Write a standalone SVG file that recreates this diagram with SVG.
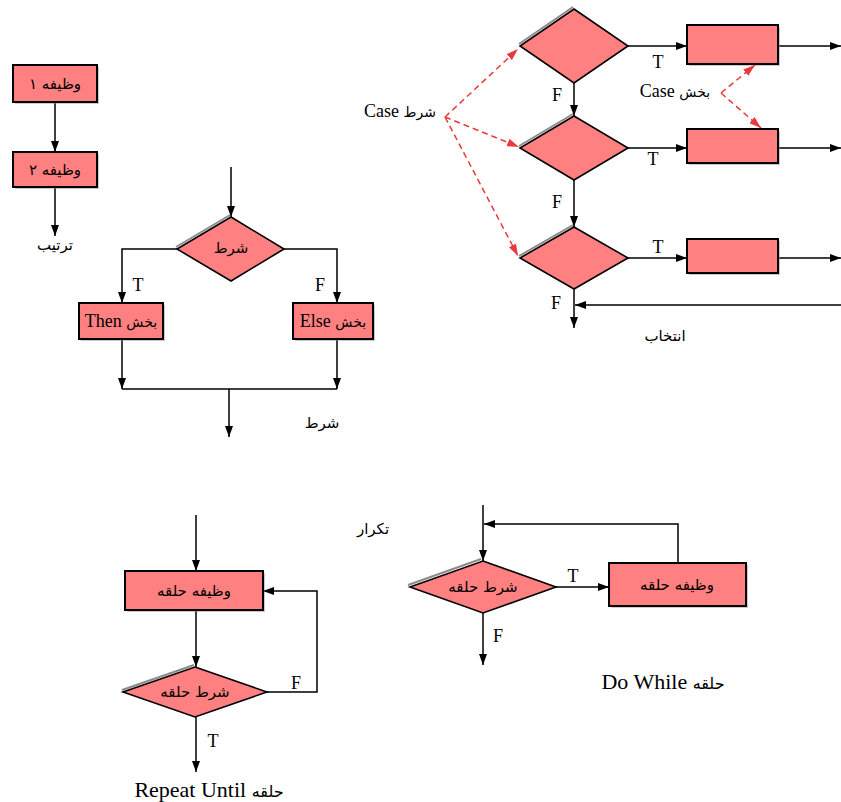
<svg xmlns="http://www.w3.org/2000/svg" width="841" height="802" viewBox="0 0 841 802">
<style>
.box{fill:#FF8080;stroke:#000;stroke-width:2}
.shb{fill:#8a8a8a;opacity:0.45}
.dia{fill:#FF8080;stroke:#000;stroke-width:1.6;stroke-linejoin:miter}
.shd{fill:none;stroke:#8a8a8a;stroke-width:2}
.ln{fill:none;stroke:#000;stroke-width:1.5}
.arr{fill:none;stroke:#000;stroke-width:1.5;marker-end:url(#ah)}
.dash{fill:none;stroke:#E83A3A;stroke-width:1.5;stroke-dasharray:6,4;marker-end:url(#rh)}
.fa{font-family:"DejaVu Sans","Noto Sans",sans-serif;font-size:15px;fill:#000;text-anchor:middle}
.lt{font-family:"Liberation Serif","DejaVu Sans",serif;font-size:18px;fill:#000;text-anchor:middle}
.ft{font-family:"DejaVu Sans","Noto Sans",sans-serif;font-size:14px}
.tf{font-family:"Liberation Serif",serif;font-size:18px;fill:#000;text-anchor:middle}
</style>
<defs>
<marker id="ah" markerWidth="11" markerHeight="8" refX="11" refY="4" orient="auto" markerUnits="userSpaceOnUse"><path d="M0,0 L11,4 L0,8 z" fill="#000"/></marker>
<marker id="rh" markerWidth="12" markerHeight="8" refX="12" refY="4" orient="auto" markerUnits="userSpaceOnUse"><path d="M0,0 L12,4 L0,8 z" fill="#E83A3A"/></marker>
</defs>

<g id="connectors">
<line class="arr" x1="55" y1="102" x2="55" y2="152"/>
<line class="arr" x1="55" y1="187" x2="55" y2="236"/>

<line class="arr" x1="231" y1="167" x2="231" y2="217"/>
<polyline class="arr" points="177,249 122,249 122,303"/>
<polyline class="arr" points="284,249 337,249 337,303"/>
<line class="arr" x1="122" y1="339" x2="122" y2="389"/>
<line class="arr" x1="337" y1="339" x2="337" y2="389"/>
<line class="ln" x1="122" y1="389" x2="337" y2="389"/>
<line class="arr" x1="229" y1="389" x2="229" y2="437"/>

<line class="arr" x1="628" y1="46" x2="687" y2="46"/>
<line class="arr" x1="628" y1="148" x2="687" y2="148"/>
<line class="arr" x1="628" y1="258" x2="687" y2="258"/>
<line class="arr" x1="778" y1="46" x2="841" y2="46"/>
<line class="arr" x1="778" y1="148" x2="841" y2="148"/>
<line class="arr" x1="778" y1="258" x2="841" y2="258"/>
<line class="arr" x1="574" y1="83" x2="574" y2="116"/>
<line class="arr" x1="574" y1="180" x2="574" y2="227"/>
<line class="arr" x1="574" y1="289" x2="574" y2="328"/>
<line class="arr" x1="841" y1="305" x2="575" y2="305"/>
<line class="dash" x1="445" y1="117" x2="518" y2="49"/>
<line class="dash" x1="445" y1="117" x2="519" y2="147"/>
<line class="dash" x1="445" y1="117" x2="518" y2="256"/>
<line class="dash" x1="721" y1="93" x2="755" y2="65"/>
<line class="dash" x1="721" y1="93" x2="761" y2="128"/>

<line class="arr" x1="196" y1="515" x2="196" y2="571"/>
<line class="arr" x1="196" y1="610" x2="196" y2="667"/>
<polyline class="arr" points="267,692 317,692 317,591 263,591"/>
<line class="arr" x1="196" y1="717" x2="196" y2="772"/>

<line class="arr" x1="483" y1="505" x2="483" y2="561"/>
<polyline class="arr" points="678,563 678,524 484,524"/>
<line class="arr" x1="556" y1="587" x2="609" y2="587"/>
<line class="arr" x1="483" y1="613" x2="483" y2="665"/>
</g>

<g id="seq1"><rect class="shb" x="15" y="67" width="84" height="37"/><rect class="box" x="13" y="65" width="84" height="37"/><text class="fa" x="55" y="89">وظیفه ۱</text></g>
<g id="seq2"><rect class="shb" x="15" y="154" width="84" height="35"/><rect class="box" x="13" y="152" width="84" height="35"/><text class="fa" x="55" y="175">وظیفه ۲</text></g>
<text class="fa" x="55" y="250">ترتیب</text>

<g id="if-cond"><polyline class="shd" points="176,247 230,215"/><polygon class="dia" points="231,217 284,249 231,281 177,249"/><text class="fa" x="231" y="253">شرط</text></g>
<g id="then"><rect class="shb" x="81" y="305" width="84" height="36"/><rect class="box" x="79" y="303" width="84" height="36"/><text class="lt" x="121" y="327">Then <tspan class="ft">بخش</tspan></text></g>
<g id="else"><rect class="shb" x="295" y="305" width="80" height="36"/><rect class="box" x="293" y="303" width="80" height="36"/><text class="lt" x="333" y="327">Else <tspan class="ft">بخش</tspan></text></g>
<text class="tf" x="138" y="291">T</text>
<text class="tf" x="320" y="291">F</text>
<text class="fa" x="322" y="428">شرط</text>

<g id="case1"><polyline class="shd" points="519,44 573,7"/><polygon class="dia" points="574,9 628,46 574,83 520,46"/></g>
<g id="case2"><polyline class="shd" points="519,146 573,114"/><polygon class="dia" points="574,116 628,148 574,180 520,148"/></g>
<g id="case3"><polyline class="shd" points="519,256 573,225"/><polygon class="dia" points="574,227 628,258 574,289 520,258"/></g>
<g id="cbox1"><rect class="shb" x="689" y="27" width="91" height="39"/><rect class="box" x="687" y="25" width="91" height="39"/></g>
<g id="cbox2"><rect class="shb" x="689" y="131" width="91" height="34"/><rect class="box" x="687" y="129" width="91" height="34"/></g>
<g id="cbox3"><rect class="shb" x="689" y="241" width="91" height="34"/><rect class="box" x="687" y="239" width="91" height="34"/></g>
<text class="tf" x="658" y="68">T</text>
<text class="tf" x="653" y="165">T</text>
<text class="tf" x="658" y="253">T</text>
<text class="tf" x="557" y="101">F</text>
<text class="tf" x="557" y="208">F</text>
<text class="tf" x="556" y="309">F</text>
<text class="lt" x="400" y="117">Case <tspan class="ft">شرط</tspan></text>
<text class="lt" x="675" y="97">Case <tspan class="ft">بخش</tspan></text>
<text class="fa" x="665" y="341">انتخاب</text>

<g id="ru-task"><rect class="shb" x="127" y="573" width="138" height="39"/><rect class="box" x="125" y="571" width="138" height="39"/><text class="fa" x="194" y="596">وظیفه حلقه</text></g>
<g id="ru-cond"><polyline class="shd" points="122,690 194,665"/><polygon class="dia" points="195,667 267,692 195,717 123,692"/><text class="fa" x="195" y="697">شرط حلقه</text></g>
<text class="tf" x="296" y="689">F</text>
<text class="tf" x="213" y="747">T</text>
<text class="lt" x="209" y="797" style="font-size:22px">Repeat Until <tspan class="ft" style="font-size:16px">حلقه</tspan></text>

<g id="dw-cond"><polyline class="shd" points="408,585 481,559"/><polygon class="dia" points="483,561 556,587 483,613 410,587"/><text class="fa" x="483" y="592">شرط حلقه</text></g>
<g id="dw-task"><rect class="shb" x="611" y="565" width="137" height="43"/><rect class="box" x="609" y="563" width="137" height="43"/><text class="fa" x="677" y="590">وظیفه حلقه</text></g>
<text class="tf" x="573" y="582">T</text>
<text class="tf" x="498" y="642">F</text>
<text class="fa" x="373" y="534">تکرار</text>
<text class="lt" x="663" y="689" style="font-size:22px">Do While  <tspan class="ft" style="font-size:16px">حلقه</tspan></text>
</svg>
